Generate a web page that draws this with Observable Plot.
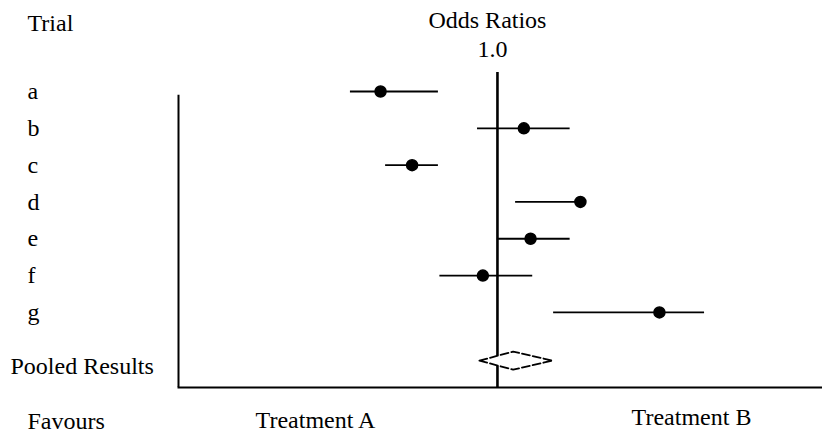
<!DOCTYPE html>
<html><head><meta charset="utf-8">
<script src="https://cdn.jsdelivr.net/npm/d3@7"></script>
<script src="https://cdn.jsdelivr.net/npm/@observablehq/plot@0.6"></script>
<style>body{margin:0;background:#fff}</style>
</head><body><div id="chart"></div>
<script>
// ---- data ----
const trials   = ["a", "b", "c", "d", "e", "f", "g"];
const oddsRatio = [0.43, 1.21, 0.54, 1.82, 1.27, 0.90, 3.22];
const ciLow     = [0.346, 0.866, 0.446, 1.14, 1.00, 0.66, 1.50];
const ciHigh    = [0.653, 1.69, 0.653, 1.86, 1.69, 1.29, 4.46];
const pooledLabel = "Pooled Results";
const pooledOR   = [1.12];
const pooledLow  = [0.878];
const pooledHigh = [1.49];
const refValues = [1];
const refLabels = ["1.0"];
const headerLeft = "Trial";
const headerTop = "Odds Ratios";
const favoursLabel = "Favours";
const favoursSides = ["Treatment A", "Treatment B"];

// ---- derived tables ----
const rows = trials.map((t, i) => ({trial: t, row: i, or: oddsRatio[i], lo: ciLow[i], hi: ciHigh[i]}));
const pooledRow = trials.length + 0.31;      // extra gap before the pooled row
const halfH = 0.245;                          // diamond half-height in row units
const diamond = [
  {x: pooledLow[0], y: pooledRow},
  {x: pooledOR[0], y: pooledRow - halfH},
  {x: pooledHigh[0], y: pooledRow},
  {x: pooledOR[0], y: pooledRow + halfH},
  {x: pooledLow[0], y: pooledRow}
];
const font = {fontFamily: "Liberation Serif", fontSize: 24, fill: "black"};

const chart = Plot.plot({
  width: 822,
  height: 433,
  marginTop: 72,
  marginBottom: 46,
  marginLeft: 178,
  marginRight: 0,
  style: {fontFamily: "Liberation Serif", background: "white", color: "black"},
  x: {type: "log", domain: [0.1, 10.45], axis: null},
  y: {domain: [-0.516, 8.04], reverse: true, axis: null},
  marks: [
    // left axis line and bottom axis line
    Plot.ruleX([0.1], {y1: 0.1, y2: 8.04, stroke: "black", strokeWidth: 2}),
    Plot.frame({anchor: "bottom", stroke: "black", strokeWidth: 2}),
    // reference line at OR = 1
    Plot.ruleX(refValues, {stroke: "black", strokeWidth: 2.6}),
    // confidence intervals
    Plot.ruleY(rows, {y: "row", x1: "lo", x2: "hi", stroke: "black", strokeWidth: 1.8}),
    Plot.dot(rows, {x: "or", y: "row", r: 5.5, fill: "black", stroke: "black"}),
    // pooled diamond
    Plot.line(diamond, {x: "x", y: "y", fill: "white", stroke: "black", strokeWidth: 1.8, strokeDasharray: "8,3"}),
    // row labels
    Plot.text(rows, {y: "row", text: "trial", frameAnchor: "left", dx: -151, textAnchor: "start", lineAnchor: "middle", ...font}),
    Plot.text([pooledLabel], {y: [pooledRow], text: d => d, frameAnchor: "left", dx: -168, dy: 6, textAnchor: "start", lineAnchor: "middle", ...font}),
    // headers
    Plot.text([headerLeft], {text: d => d, frameAnchor: "top-left", dx: -151, dy: -49, textAnchor: "start", lineAnchor: "middle", ...font}),
    Plot.text([headerTop], {x: refValues, text: d => d, frameAnchor: "top", dx: -10, dy: -52, textAnchor: "middle", lineAnchor: "middle", ...font}),
    Plot.text(refLabels, {x: refValues, text: d => d, frameAnchor: "top", dx: -5, dy: -23, textAnchor: "middle", lineAnchor: "middle", ...font}),
    // favours row
    Plot.text([favoursLabel], {text: d => d, frameAnchor: "bottom-left", dx: -151, dy: 34, textAnchor: "start", lineAnchor: "middle", ...font}),
    Plot.text([favoursSides[0]], {text: d => d, frameAnchor: "bottom-left", dx: 137, dy: 33, textAnchor: "middle", lineAnchor: "middle", ...font}),
    Plot.text([favoursSides[1]], {text: d => d, frameAnchor: "bottom-left", dx: 513, dy: 30, textAnchor: "middle", lineAnchor: "middle", ...font})
  ]
});
document.getElementById("chart").appendChild(chart);
</script>
</body></html>
